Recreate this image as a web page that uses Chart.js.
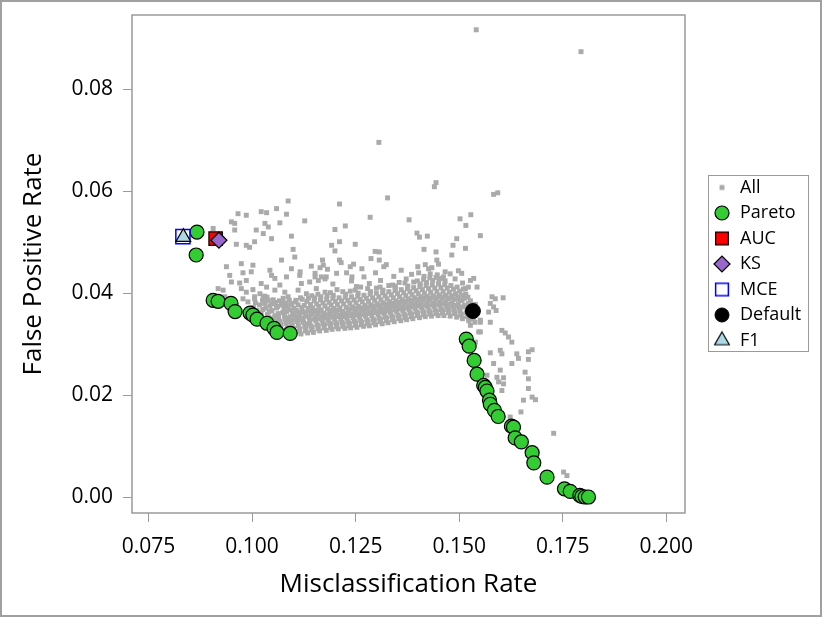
<!DOCTYPE html>
<html>
<head>
<meta charset="utf-8">
<script src="https://cdn.jsdelivr.net/npm/chart.js@4.4.1/dist/chart.umd.min.js"></script>
<style>
  html, body { margin: 0; padding: 0; background: #fff; }
  canvas { display: block; }
</style>
</head>
<body>
<canvas id="chart" width="822" height="617"></canvas>
<script>
// tick labels
const xTickValues = [0.075, 0.1, 0.125, 0.15, 0.175, 0.2];
const yTickValues = [0, 0.02, 0.04, 0.06, 0.08];

// all evaluated models [misclassification, false positive]
const allPoints = [
  // upper left cloud
  [0.1087,0.0581],[0.1059,0.0566],[0.1022,0.0560],[0.1035,0.0558],[0.0966,0.0556],[0.0986,0.0553],
  [0.1083,0.0555],[0.1127,0.0542],[0.0950,0.0540],[0.0958,0.0537],[0.1031,0.0537],[0.1039,0.0530],
  [0.1067,0.0538],[0.0906,0.0527],[0.0958,0.0524],[0.1010,0.0524],[0.1027,0.0517],[0.1095,0.0512],
  [0.1047,0.0507],[0.1006,0.0501],[0.0962,0.0496],[0.0986,0.0494],[0.0994,0.0490],[0.1099,0.0486],
  [0.1103,0.0471],[0.1071,0.0465],[0.0938,0.0452],[0.0974,0.0458],[0.1002,0.0455],[0.1043,0.0445],
  [0.1095,0.0448],[0.1143,0.0453],[0.1164,0.0450],[0.1172,0.0455],[0.0978,0.0440],[0.0998,0.0442],
  [0.0946,0.0435],[0.1047,0.0435],[0.1055,0.0429],[0.1083,0.0432],[0.1115,0.0435],[0.1152,0.0439],
  [0.0950,0.0422],[0.0970,0.0420],[0.0986,0.0425],[0.1022,0.0419],[0.1035,0.0412],[0.1067,0.0416],
  [0.1119,0.0419],[0.1139,0.0422],[0.1167,0.0432],[0.0918,0.0409],[0.0930,0.0406],[0.0974,0.0409],
  [0.0986,0.0402],[0.1002,0.0407],[0.1019,0.0399],[0.1031,0.0394],[0.1055,0.0406],[0.1079,0.0402],
  [0.1087,0.0393],[0.1111,0.0406],[0.1131,0.0399],[0.1155,0.0409],[0.1176,0.0402],[0.0934,0.0393],
  [0.0950,0.0388],[0.0978,0.0389],[0.0990,0.0383],[0.1006,0.0393],[0.1039,0.0386],[0.1055,0.0380],
  [0.1071,0.0383],[0.1083,0.0376],[0.1095,0.0380],
  // upper middle scatter
  [0.1306,0.0696],[0.1444,0.0617],[0.1440,0.0609],[0.1583,0.0594],[0.1593,0.0597],[0.1327,0.0587],
  [0.1211,0.0575],[0.1285,0.0549],[0.1379,0.0544],[0.1502,0.0546],[0.1528,0.0554],[0.1516,0.0533],
  [0.1200,0.0525],[0.1225,0.0532],[0.1398,0.0518],[0.1404,0.0510],[0.1423,0.0512],[0.1551,0.0513],
  [0.1192,0.0494],[0.1211,0.0501],[0.1249,0.0496],[0.1494,0.0507],[0.1485,0.0494],[0.1515,0.0488],
  [0.1415,0.0486],[0.1444,0.0481],[0.1200,0.0483],[0.1297,0.0482],[0.1307,0.0481],[0.1287,0.0468],
  [0.1307,0.0465],[0.1446,0.0465],[0.1482,0.0475],[0.1211,0.0465],[0.1324,0.0456],[0.1237,0.0452],
  [0.1245,0.0457],[0.1400,0.0452],[0.1426,0.0448],[0.1434,0.0450],[0.1466,0.0442],[0.1498,0.0444],
  [0.1506,0.0439],[0.1116,0.0442],[0.1204,0.0439],[0.1152,0.0432],[0.1160,0.0425],[0.1179,0.0432],
  [0.1241,0.0432],[0.1535,0.0429],[0.1527,0.0425],[0.1543,0.0412],[0.1515,0.0409],
  [0.1541,0.0917],[0.1794,0.0874],
  // above the band
  [0.1170,0.0465],[0.1182,0.0447],[0.1176,0.0428],[0.1195,0.0418],[0.1215,0.0460],[0.1228,0.0440],
  [0.1240,0.0424],[0.1252,0.0413],[0.1265,0.0448],[0.1270,0.0432],[0.1283,0.0419],[0.1298,0.0440],
  [0.1310,0.0425],[0.1318,0.0452],[0.1330,0.0415],[0.1342,0.0433],[0.1355,0.0421],[0.1360,0.0445],
  [0.1372,0.0428],[0.1385,0.0437],[0.1390,0.0422],[0.1402,0.0440],[0.1415,0.0433],[0.1418,0.0456],
  [0.1430,0.0438],[0.1447,0.0436],[0.1450,0.0457],[0.1462,0.0432],[0.1478,0.0438],[0.1490,0.0428],
  [0.1508,0.0420],[0.1522,0.0412],[0.1205,0.0407],[0.1237,0.0404],[0.1262,0.0412],[0.1300,0.0410],
  [0.1345,0.0414],
  // dense band
  [0.1003,0.0372],[0.1008,0.0381],[0.1012,0.0366],[0.1006,0.0389],
  [0.1018,0.0377],[0.1022,0.0362],[0.1025,0.0386],[0.1021,0.0352],
  [0.1033,0.0371],[0.1037,0.0358],[0.1032,0.0383],[0.1039,0.0345],[0.1036,0.0392],
  [0.1048,0.0366],[0.1052,0.0351],[0.1047,0.0379],[0.1054,0.0338],[0.1051,0.0387],
  [0.1063,0.0360],[0.1067,0.0345],[0.1062,0.0374],[0.1069,0.0333],[0.1066,0.0385],[0.1064,0.0352],
  [0.1078,0.0357],[0.1082,0.0341],[0.1077,0.0370],[0.1084,0.0329],[0.1081,0.0381],[0.1079,0.0349],[0.1083,0.0364],
  [0.1093,0.0354],[0.1097,0.0338],[0.1092,0.0367],[0.1099,0.0326],[0.1096,0.0378],[0.1094,0.0346],[0.1098,0.0360],
  [0.1108,0.0352],[0.1112,0.0336],[0.1107,0.0366],[0.1114,0.0325],[0.1111,0.0377],[0.1109,0.0344],[0.1113,0.0359],[0.1106,0.0386],
  [0.1123,0.0351],[0.1127,0.0335],[0.1122,0.0364],[0.1129,0.0326],[0.1126,0.0376],[0.1124,0.0343],[0.1128,0.0357],[0.1121,0.0388],
  [0.1138,0.0352],[0.1142,0.0336],[0.1137,0.0365],[0.1144,0.0328],[0.1141,0.0378],[0.1139,0.0344],[0.1143,0.0359],[0.1136,0.0390],
  [0.1153,0.0353],[0.1157,0.0338],[0.1152,0.0366],[0.1159,0.0330],[0.1156,0.0379],[0.1154,0.0346],[0.1158,0.0360],[0.1151,0.0391],
  [0.1168,0.0354],[0.1172,0.0340],[0.1167,0.0367],[0.1174,0.0332],[0.1171,0.0381],[0.1169,0.0347],[0.1173,0.0361],[0.1166,0.0393],
  [0.1183,0.0355],[0.1187,0.0341],[0.1182,0.0369],[0.1189,0.0333],[0.1186,0.0382],[0.1184,0.0348],[0.1188,0.0362],[0.1181,0.0395],
  [0.1198,0.0356],[0.1202,0.0342],[0.1197,0.0370],[0.1204,0.0334],[0.1201,0.0384],[0.1199,0.0349],[0.1203,0.0363],[0.1196,0.0396],
  [0.1213,0.0357],[0.1217,0.0343],[0.1212,0.0371],[0.1219,0.0335],[0.1216,0.0385],[0.1214,0.0350],[0.1218,0.0364],
  [0.1228,0.0358],[0.1232,0.0344],[0.1227,0.0372],[0.1234,0.0336],[0.1231,0.0386],[0.1229,0.0351],[0.1233,0.0365],[0.1226,0.0398],
  [0.1243,0.0359],[0.1247,0.0345],[0.1242,0.0373],[0.1249,0.0337],[0.1246,0.0387],[0.1244,0.0352],[0.1248,0.0366],
  [0.1258,0.0360],[0.1262,0.0346],[0.1257,0.0374],[0.1264,0.0338],[0.1261,0.0388],[0.1259,0.0353],[0.1263,0.0367],[0.1256,0.0400],
  [0.1273,0.0362],[0.1277,0.0348],[0.1272,0.0376],[0.1279,0.0340],[0.1276,0.0390],[0.1274,0.0355],[0.1278,0.0369],
  [0.1288,0.0363],[0.1292,0.0349],[0.1287,0.0377],[0.1294,0.0342],[0.1291,0.0391],[0.1289,0.0356],[0.1293,0.0370],[0.1286,0.0403],
  [0.1303,0.0365],[0.1307,0.0351],[0.1302,0.0379],[0.1309,0.0344],[0.1306,0.0393],[0.1304,0.0358],[0.1308,0.0372],
  [0.1318,0.0367],[0.1322,0.0353],[0.1317,0.0381],[0.1324,0.0346],[0.1321,0.0395],[0.1319,0.0360],[0.1323,0.0374],[0.1316,0.0406],
  [0.1333,0.0369],[0.1337,0.0355],[0.1332,0.0383],[0.1339,0.0348],[0.1336,0.0397],[0.1334,0.0362],[0.1338,0.0376],
  [0.1348,0.0371],[0.1352,0.0357],[0.1347,0.0385],[0.1354,0.0350],[0.1351,0.0399],[0.1349,0.0364],[0.1353,0.0378],[0.1346,0.0410],
  [0.1363,0.0373],[0.1367,0.0359],[0.1362,0.0387],[0.1369,0.0352],[0.1366,0.0401],[0.1364,0.0366],[0.1368,0.0380],
  [0.1378,0.0375],[0.1382,0.0361],[0.1377,0.0389],[0.1384,0.0354],[0.1381,0.0403],[0.1379,0.0368],[0.1383,0.0382],[0.1376,0.0414],
  [0.1393,0.0377],[0.1397,0.0363],[0.1392,0.0391],[0.1399,0.0356],[0.1396,0.0405],[0.1394,0.0370],[0.1398,0.0384],
  [0.1408,0.0379],[0.1412,0.0365],[0.1407,0.0393],[0.1414,0.0358],[0.1411,0.0407],[0.1409,0.0372],[0.1413,0.0386],[0.1406,0.0418],
  [0.1423,0.0380],[0.1427,0.0366],[0.1422,0.0394],[0.1429,0.0359],[0.1426,0.0409],[0.1424,0.0373],[0.1428,0.0387],[0.1421,0.0421],
  [0.1438,0.0381],[0.1442,0.0367],[0.1437,0.0395],[0.1444,0.0360],[0.1441,0.0410],[0.1439,0.0374],[0.1443,0.0388],[0.1436,0.0425],
  [0.1453,0.0382],[0.1457,0.0368],[0.1452,0.0396],[0.1459,0.0361],[0.1456,0.0411],[0.1454,0.0375],[0.1458,0.0389],[0.1451,0.0427],
  [0.1468,0.0382],[0.1472,0.0368],[0.1467,0.0396],[0.1474,0.0362],[0.1471,0.0410],[0.1469,0.0375],[0.1473,0.0389],[0.1466,0.0424],
  [0.1483,0.0381],[0.1487,0.0367],[0.1482,0.0395],[0.1489,0.0360],[0.1486,0.0408],[0.1484,0.0374],[0.1488,0.0388],
  [0.1498,0.0379],[0.1502,0.0365],[0.1497,0.0393],[0.1504,0.0357],[0.1501,0.0404],[0.1499,0.0372],[0.1503,0.0386],
  [0.1513,0.0376],[0.1517,0.0362],[0.1512,0.0390],[0.1519,0.0354],[0.1516,0.0398],
  [0.1528,0.0372],[0.1532,0.0358],[0.1527,0.0385],[0.1534,0.0349],
  // dense band, in between
  [0.1029,0.0349],[0.1026,0.0368],[0.1030,0.0380],[0.1027,0.0394],
  [0.1044,0.0341],[0.1040,0.0353],[0.1043,0.0375],[0.1041,0.0364],
  [0.1058,0.0334],[0.1055,0.0356],[0.1059,0.0371],[0.1056,0.0382],[0.1060,0.0344],
  [0.1073,0.0327],[0.1070,0.0339],[0.1074,0.0362],[0.1071,0.0377],[0.1075,0.0390],
  [0.1089,0.0323],[0.1085,0.0334],[0.1088,0.0352],[0.1086,0.0373],[0.1090,0.0386],[0.1087,0.0344],
  [0.1103,0.0321],[0.1100,0.0331],[0.1104,0.0348],[0.1101,0.0370],[0.1105,0.0383],[0.1102,0.0357],
  [0.1118,0.0320],[0.1115,0.0330],[0.1119,0.0347],[0.1116,0.0362],[0.1120,0.0372],[0.1117,0.0391],[0.1114,0.0355],
  [0.1134,0.0322],[0.1130,0.0331],[0.1133,0.0340],[0.1131,0.0355],[0.1135,0.0370],[0.1132,0.0384],[0.1129,0.0362],
  [0.1148,0.0323],[0.1145,0.0333],[0.1149,0.0349],[0.1146,0.0371],[0.1150,0.0385],[0.1147,0.0363],[0.1144,0.0395],
  [0.1163,0.0326],[0.1160,0.0336],[0.1164,0.0350],[0.1161,0.0374],[0.1165,0.0387],[0.1162,0.0364],[0.1159,0.0398],
  [0.1179,0.0327],[0.1175,0.0338],[0.1178,0.0351],[0.1176,0.0375],[0.1180,0.0388],[0.1177,0.0358],
  [0.1193,0.0329],[0.1190,0.0339],[0.1194,0.0353],[0.1191,0.0377],[0.1195,0.0390],[0.1192,0.0366],[0.1189,0.0401],
  [0.1208,0.0330],[0.1205,0.0340],[0.1209,0.0354],[0.1206,0.0378],[0.1210,0.0391],[0.1207,0.0367],
  [0.1224,0.0331],[0.1220,0.0340],[0.1223,0.0361],[0.1221,0.0379],[0.1225,0.0392],[0.1222,0.0354],[0.1219,0.0403],
  [0.1238,0.0332],[0.1235,0.0341],[0.1239,0.0356],[0.1236,0.0380],[0.1240,0.0393],[0.1237,0.0369],
  [0.1253,0.0333],[0.1250,0.0342],[0.1254,0.0357],[0.1251,0.0381],[0.1255,0.0394],[0.1252,0.0370],[0.1249,0.0406],
  [0.1269,0.0335],[0.1265,0.0343],[0.1268,0.0358],[0.1266,0.0383],[0.1270,0.0396],[0.1267,0.0371],
  [0.1283,0.0336],[0.1280,0.0345],[0.1284,0.0360],[0.1281,0.0384],[0.1285,0.0398],[0.1282,0.0373],[0.1279,0.0409],
  [0.1298,0.0338],[0.1295,0.0347],[0.1299,0.0362],[0.1296,0.0386],[0.1300,0.0400],[0.1297,0.0375],
  [0.1314,0.0340],[0.1310,0.0349],[0.1313,0.0363],[0.1311,0.0387],[0.1315,0.0401],[0.1312,0.0376],[0.1309,0.0412],
  [0.1328,0.0342],[0.1325,0.0351],[0.1329,0.0365],[0.1326,0.0389],[0.1330,0.0403],[0.1327,0.0378],
  [0.1343,0.0344],[0.1340,0.0353],[0.1344,0.0367],[0.1341,0.0391],[0.1345,0.0405],[0.1342,0.0380],[0.1339,0.0416],
  [0.1359,0.0346],[0.1355,0.0355],[0.1358,0.0369],[0.1356,0.0393],[0.1360,0.0407],[0.1357,0.0382],
  [0.1373,0.0348],[0.1370,0.0357],[0.1374,0.0371],[0.1371,0.0395],[0.1375,0.0409],[0.1372,0.0384],[0.1369,0.0420],
  [0.1388,0.0350],[0.1385,0.0359],[0.1389,0.0373],[0.1386,0.0397],[0.1390,0.0411],[0.1387,0.0386],
  [0.1404,0.0352],[0.1400,0.0361],[0.1403,0.0375],[0.1401,0.0399],[0.1405,0.0413],[0.1402,0.0388],[0.1399,0.0424],
  [0.1418,0.0354],[0.1415,0.0362],[0.1419,0.0376],[0.1416,0.0400],[0.1420,0.0415],[0.1417,0.0390],[0.1414,0.0427],
  [0.1433,0.0355],[0.1430,0.0363],[0.1434,0.0377],[0.1431,0.0402],[0.1435,0.0416],[0.1432,0.0391],[0.1429,0.0430],
  [0.1449,0.0356],[0.1445,0.0364],[0.1448,0.0378],[0.1446,0.0403],[0.1450,0.0418],[0.1447,0.0392],[0.1444,0.0431],
  [0.1463,0.0356],[0.1460,0.0365],[0.1464,0.0379],[0.1461,0.0403],[0.1465,0.0417],[0.1462,0.0392],[0.1459,0.0429],
  [0.1478,0.0355],[0.1475,0.0364],[0.1479,0.0378],[0.1476,0.0402],[0.1480,0.0415],[0.1477,0.0391],
  [0.1494,0.0353],[0.1490,0.0362],[0.1493,0.0376],[0.1491,0.0399],[0.1495,0.0412],[0.1492,0.0389],
  [0.1508,0.0350],[0.1505,0.0359],[0.1509,0.0373],[0.1506,0.0396],[0.1510,0.0408],[0.1507,0.0386],
  [0.1523,0.0346],[0.1520,0.0355],[0.1524,0.0368],[0.1521,0.0392],[0.1522,0.0380],
  [0.1538,0.0343],[0.1536,0.0362],[0.1539,0.0378],
  // right of default and tail
  [0.1579,0.0393],[0.1587,0.0389],[0.1606,0.0391],[0.1575,0.0380],[0.1583,0.0373],[0.1589,0.0366],
  [0.1571,0.0363],[0.1523,0.0350],[0.1551,0.0343],[0.1575,0.0343],[0.1527,0.0337],[0.1551,0.0324],
  [0.1603,0.0327],[0.1611,0.0322],[0.1619,0.0314],[0.1627,0.0304],[0.1539,0.0304],[0.1575,0.0283],
  [0.1599,0.0288],[0.1603,0.0281],[0.1639,0.0281],[0.1643,0.0272],[0.1667,0.0285],[0.1676,0.0289],
  [0.1551,0.0347],[0.1547,0.0324],[0.1667,0.0270],[0.1583,0.0262],[0.1627,0.0262],[0.1599,0.0249],
  [0.1659,0.0245],[0.1567,0.0239],[0.1591,0.0235],[0.1607,0.0234],[0.1667,0.0232],[0.1595,0.0226],
  [0.1607,0.0222],[0.1571,0.0217],[0.1603,0.0209],[0.1667,0.0213],[0.1655,0.0190],[0.1676,0.0196],
  [0.1684,0.0191],[0.1649,0.0167],[0.1623,0.0157],[0.1728,0.0125],[0.1752,0.0049],[0.1760,0.0042]
];

const paretoPoints = [
  [0.0867,0.0520],[0.0865,0.0475],[0.0906,0.0386],[0.0918,0.0384],[0.0949,0.0380],[0.0959,0.0364],
  [0.0995,0.0361],[0.1002,0.0357],[0.1012,0.0349],[0.1036,0.0341],[0.1053,0.0331],[0.1060,0.0323],
  [0.1092,0.0321],
  [0.1517,0.0310],[0.1524,0.0296],[0.1536,0.0268],[0.1543,0.0241],[0.1559,0.0219],[0.1563,0.0215],
  [0.1567,0.0208],[0.1573,0.0190],[0.1575,0.0182],[0.1585,0.0170],[0.1594,0.0158],[0.1626,0.0139],
  [0.1631,0.0137],[0.1635,0.0116],[0.1650,0.0108],[0.1676,0.0087],[0.1680,0.0067],[0.1712,0.0039],
  [0.1754,0.0016],[0.1768,0.0011],[0.1791,0.0003],[0.1796,0.0001],[0.1804,0.0000],[0.1812,0.0000]
];

const aucPoint = [[0.0912,0.0507]];
const ksPoint = [[0.0920,0.0504]];
const mcePoint = [[0.0833,0.0511]];
const defaultPoint = [[0.1533,0.0365]];
const f1Point = [[0.0834,0.0510]];

const toXY = (pts) => pts.map((p) => ({ x: p[0], y: p[1] }));

Chart.defaults.font.family = "'Open Sans', 'Noto Sans', sans-serif";
Chart.defaults.color = "#000";

const AXIS_GRAY = "#9a9a9a";

const datasets = [
  { label: "All", data: toXY(allPoints), pointStyle: "rect", pointRadius: 3.5,
    backgroundColor: "#aaaaaa", borderWidth: 0, order: 7 },
  { label: "Pareto", data: toXY(paretoPoints), pointStyle: "circle", pointRadius: 7,
    backgroundColor: "#33cc33", borderColor: "#000", borderWidth: 1.2, order: 6 },
  { label: "AUC", data: toXY(aucPoint), pointStyle: "rect", pointRadius: 9.5,
    backgroundColor: "#ff0000", borderColor: "#000", borderWidth: 1.2, order: 5 },
  { label: "KS", data: toXY(ksPoint), pointStyle: "rectRot", pointRadius: 8,
    backgroundColor: "#9966cc", borderColor: "#000", borderWidth: 1.2, order: 4 },
  { label: "MCE", data: toXY(mcePoint), pointStyle: "rect", pointRadius: 10,
    backgroundColor: "rgba(0,0,0,0)", borderColor: "#0000ff", borderWidth: 1.5, order: 3 },
  { label: "Default", data: toXY(defaultPoint), pointStyle: "circle", pointRadius: 7.5,
    backgroundColor: "#000", borderColor: "#000", borderWidth: 1, order: 2 },
  { label: "F1", data: toXY(f1Point), pointStyle: "triangle", pointRadius: 8.5,
    backgroundColor: "#add8e6", borderColor: "#000", borderWidth: 1.2, order: 1 },
];

// legend icons, sized like the reference legend
const legendRadius = [3.5, 7, 9, 8, 9, 7, 8.5];
const legendIcons = datasets.map((ds, i) => {
  const c = document.createElement("canvas");
  c.width = 22;
  c.height = 22;
  const g = c.getContext("2d");
  g.fillStyle = ds.backgroundColor;
  g.strokeStyle = ds.borderColor || ds.backgroundColor;
  g.lineWidth = ds.borderWidth;
  Chart.helpers.drawPoint(g, {
    pointStyle: ds.pointStyle,
    radius: legendRadius[i],
    borderWidth: ds.borderWidth,
    rotation: 0,
  }, 11, 11);
  return c;
});

const LEGEND_LEFT = 705.5;
const PLOT_TOP = 15;

const framePlugin = {
  id: "frame",
  beforeDraw(chart) {
    const ctx = chart.ctx;
    ctx.save();
    ctx.fillStyle = "#fff";
    ctx.fillRect(0, 0, chart.width, chart.height);
    ctx.strokeStyle = "#a0a0a0";
    ctx.lineWidth = 2;
    ctx.strokeRect(1, 1, chart.width - 2, chart.height - 2);
    ctx.restore();
  },
  beforeDatasetsDraw(chart) {
    const { ctx, chartArea: a } = chart;
    ctx.save();
    ctx.strokeStyle = AXIS_GRAY;
    ctx.lineWidth = 1.5;
    ctx.strokeRect(a.left, a.top, a.right - a.left, a.bottom - a.top);
    ctx.restore();
  },
  afterDraw(chart) {
    const boxes = chart.legend && chart.legend.legendHitBoxes;
    if (!boxes || !boxes.length) return;
    const left = Math.min(...boxes.map((b) => b.left)) - 5;
    const right = Math.max(...boxes.map((b) => b.left + b.width)) + 7;
    const top = boxes[0].top - 3.5;
    const bottom = boxes[boxes.length - 1].top + boxes[boxes.length - 1].height + 1;
    const ctx = chart.ctx;
    ctx.save();
    ctx.strokeStyle = AXIS_GRAY;
    ctx.lineWidth = 1;
    ctx.strokeRect(Math.round(left) + 0.5, Math.round(top) + 0.5,
      Math.round(right - left), Math.round(bottom - top));
    ctx.restore();
  },
};

const chart = new Chart(document.getElementById("chart"), {
  type: "scatter",
  data: { datasets: datasets },
  plugins: [framePlugin],
  options: {
    responsive: false,
    animation: false,
    layout: { padding: { left: 0, top: PLOT_TOP, right: 0, bottom: 0 } },
    scales: {
      x: {
        type: "linear",
        min: 0.07101,
        max: 0.2045,
        border: { display: false },
        grid: { display: true, drawOnChartArea: false, drawTicks: true, tickLength: 9, color: AXIS_GRAY },
        afterBuildTicks: (s) => { s.ticks = xTickValues.map((v) => ({ value: v })); },
        afterFit: (s) => { s.height = 104; s.paddingLeft = 0; s.paddingRight = 0; },
        ticks: { padding: 12, font: { size: 21 }, color: "#000",
          callback: (v) => Number(v).toFixed(3) },
        title: { display: true, text: "Misclassification Rate", font: { size: 26 },
          color: "#000", padding: { top: 0, bottom: 17 } },
      },
      y: {
        type: "linear",
        min: -0.00314,
        max: 0.0946,
        border: { display: false },
        grid: { display: true, drawOnChartArea: false, drawTicks: true, tickLength: 9, color: AXIS_GRAY },
        afterBuildTicks: (s) => { s.ticks = yTickValues.map((v) => ({ value: v })); },
        afterFit: (s) => { s.width = 132; s.paddingTop = 0; s.paddingBottom = 0; },
        ticks: { padding: 10, font: { size: 21 }, color: "#000",
          callback: (v) => Number(v).toFixed(2) },
        title: { display: true, text: "False Positive Rate", font: { size: 26 },
          color: "#000", padding: { top: 18, bottom: 0 } },
      },
      gap: {
        type: "linear",
        position: "right",
        display: true,
        border: { display: false },
        grid: { display: false },
        ticks: { display: false },
        afterFit: (s) => { s.width = 20.5; s.paddingTop = 0; s.paddingBottom = 0; },
      },
    },
    plugins: {
      tooltip: { enabled: false },
      legend: {
        position: "right",
        fullSize: false,
        labels: {
          usePointStyle: true,
          boxWidth: 18,
          boxHeight: 18,
          padding: 7.5,
          font: { size: 18 },
          color: "#000",
          sort: (a, b) => a.datasetIndex - b.datasetIndex,
          generateLabels: (c) => {
            const items = Chart.defaults.plugins.legend.labels.generateLabels(c);
            return items.map((it) => Object.assign(it, { pointStyle: legendIcons[it.datasetIndex] }));
          },
        },
      },
    },
  },
});

// pin the plot top and the legend where the reference has them
const pad = chart.options.layout.padding;
for (let k = 0; k < 3; k++) {
  pad.right = Math.max(0, pad.right + (chart.legend.left - LEGEND_LEFT));
  pad.top += PLOT_TOP - chart.chartArea.top;
  chart.update("none");
}
</script>
</body>
</html>
